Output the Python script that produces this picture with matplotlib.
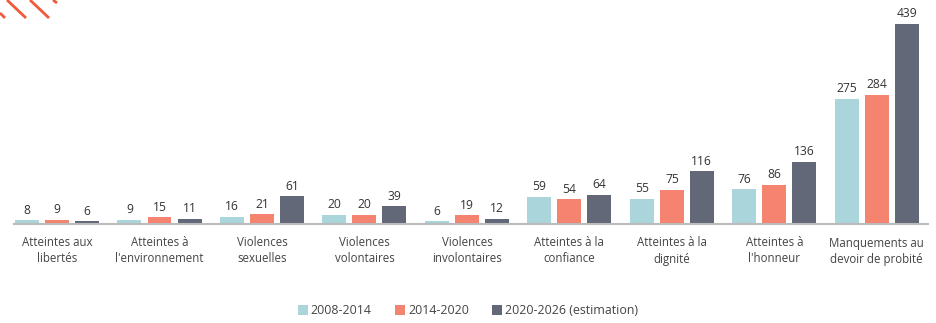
import numpy as np
import matplotlib.pyplot as plt
from matplotlib.lines import Line2D
from matplotlib.patches import Patch

plt.rcParams['font.family'] = ['Open Sans', 'DejaVu Sans']

categories = [
    "Atteintes aux\nlibertés",
    "Atteintes à\nl'environnement",
    "Violences\nsexuelles",
    "Violences\nvolontaires",
    "Violences\ninvolontaires",
    "Atteintes à la\nconfiance",
    "Atteintes à la\ndignité",
    "Atteintes à\nl'honneur",
    "Manquements au\ndevoir de probité",
]
periode_2008_2014 = [8, 9, 16, 20, 6, 59, 55, 76, 275]
periode_2014_2020 = [9, 15, 21, 20, 19, 54, 75, 86, 284]
periode_2020_2026 = [6, 11, 61, 39, 12, 64, 116, 136, 439]
series_labels = ["2008-2014", "2014-2020", "2020-2026 (estimation)"]

colors = ["#A9D5DB", "#F4836F", "#636879"]
text_color = "#333333"

fig = plt.figure(figsize=(9.37, 3.23), dpi=100)
ax = fig.add_axes([14 / 937, 99 / 323, 914 / 937, 214 / 323])

x = np.arange(len(categories))
width = 0.234
step = 0.293
for i, (vals, c) in enumerate(zip([periode_2008_2014, periode_2014_2020, periode_2020_2026], colors)):
    pos = x + (i - 1) * step
    ax.bar(pos, vals, width=width, color=c)
    for p, v in zip(pos, vals):
        ax.text(p, v + 8, str(v), ha='center', va='bottom', fontsize=8.7, color=text_color)

ax.set_xlim(-0.42, 8.5)
ax.set_ylim(0, 470)
ax.set_yticks([])
ax.set_xticks(x)
ax.set_xticklabels(categories, fontsize=8.3, color="#444444", linespacing=1.3)
ax.tick_params(axis='x', length=0, pad=9)
for s in ['top', 'right', 'left']:
    ax.spines[s].set_visible(False)
ax.spines['bottom'].set_color("#BBBBBB")
ax.spines['bottom'].set_linewidth(1.5)

# orange stripes in the top-left corner
stripe_color = "#F05A3A"
for (x0, y0, x1, y1) in [(0, 13, 5, 18), (7, 0, 26, 18), (30, 0, 49, 18), (53, 0, 57, 3)]:
    fig.add_artist(Line2D([x0 / 937, x1 / 937], [1 - y0 / 323, 1 - y1 / 323],
                          color=stripe_color, lw=2, solid_capstyle='butt'))

handles = [Patch(facecolor=c, label=l) for c, l in zip(colors, series_labels)]
fig.legend(handles=handles, loc='center', bbox_to_anchor=(468 / 937, 1 - 311 / 323),
           ncol=3, frameon=False, fontsize=8.9, handlelength=0.8, handleheight=0.8,
           handletextpad=0.25, columnspacing=1.9, labelcolor="#444444")

fig.savefig("out.png", dpi=100)
